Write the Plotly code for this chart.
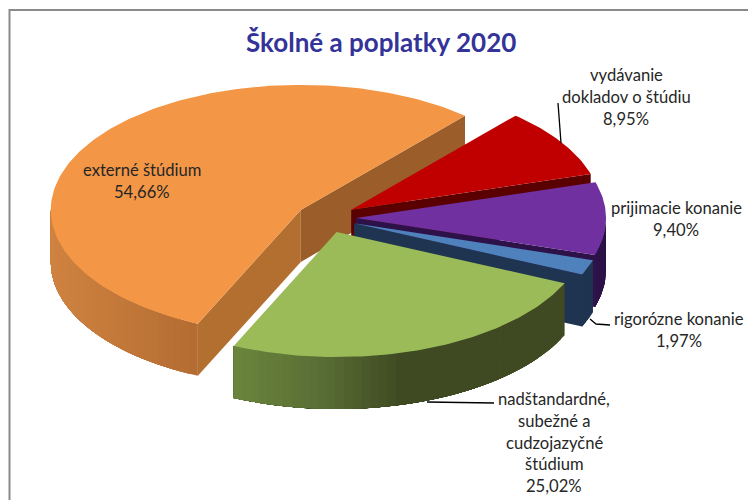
import math
import plotly.graph_objects as go

# ---- data ----
categories = ["externé štúdium", "vydávanie dokladov o štúdiu", "prijimacie konanie",
              "rigorózne konanie", "nadštandardné, subežné a cudzojazyčné štúdium"]
shares = [54.66, 8.95, 9.40, 1.97, 25.02]
share_labels = ["54,66%", "8,95%", "9,40%", "1,97%", "25,02%"]
label_lines = [["externé štúdium"], ["vydávanie", "dokladov o štúdiu"], ["prijimacie konanie"],
               ["rigorózne konanie"], ["nadštandardné,", "subežné a", "cudzojazyčné", "štúdium"]]
title_text = "Školné a poplatky 2020"

# ---- style ----
top_colors = ["#f39646", "#c00000", "#7030a0", "#4f81bd", "#9bbb59"]
start_face = ["#b26f30", None, None, None, None]
end_face = ["#9b5e2b", "#5a0000", "#2c1248", "#1e3450", None]
wall_stops = [
    [(50, "#d08340"), (197, "#b46c32"), (748, "#b46c32")],
    [(0, "#5a0000"), (748, "#5a0000")],
    [(0, "#2c1248"), (748, "#2c1248")],
    [(0, "#1e3450"), (748, "#1e3450")],
    [(234, "#6b853c"), (320, "#596e35"), (400, "#3f4a22"), (748, "#3f4a22")],
]
label_pos = [(142, 170), (626, 75), (676, 208), (679, 319), (554, 399)]
TEXT = "#262626"
CX, CY, RX, RY, DEPTH, EXPLODE, FIRST_ANGLE = 326, 218, 250, 125, 52, 30, 204.3


def rgb(h):
    return [int(h[i:i + 2], 16) for i in (1, 3, 5)]


def shade(stops, x):
    x = max(stops[0][0], min(stops[-1][0], x))
    for (x0, c0), (x1, c1) in zip(stops, stops[1:]):
        if x <= x1:
            t = (x - x0) / (x1 - x0)
            a, b = rgb(c0), rgb(c1)
            return "rgb(%d,%d,%d)" % tuple(round(p + (q - p) * t) for p, q in zip(a, b))
    return stops[-1][1]


def poly(fig, xs, ys, color, name):
    fig.add_trace(go.Scatter(
        x=xs + xs[:1], y=ys + ys[:1], mode="lines", fill="toself", fillcolor=color,
        line=dict(color=color, width=0), hoverinfo="skip", showlegend=False, name=name))


fig = go.Figure()
angle = FIRST_ANGLE
for i, share in enumerate(shares):
    sweep = share / sum(shares) * 360
    a0, a1 = angle, angle + sweep
    angle = a1
    mid = math.radians((a0 + a1) / 2)
    ax = CX + EXPLODE * math.sin(mid)
    ay = CY - EXPLODE * RY / RX * math.cos(mid)

    def pt(deg):
        r = math.radians(deg)
        return ax + RX * math.sin(r), ay - RY * math.cos(r)

    # cut faces seen from the front
    if start_face[i]:
        p = pt(a0)
        poly(fig, [ax, p[0], p[0], ax], [ay, p[1], p[1] + DEPTH, ay + DEPTH], start_face[i], categories[i])
    if end_face[i]:
        p = pt(a1)
        poly(fig, [ax, p[0], p[0], ax], [ay, p[1], p[1] + DEPTH, ay + DEPTH], end_face[i], categories[i])

    # outer wall: front half of the rim only. Shaded strips, each running on
    # to the end of the rim so that the next one paints over its seam.
    for turn in (0, 360):
        lo, hi = max(a0, 90 + turn), min(a1, 270 + turn)
        if hi > lo:
            n = max(1, int((hi - lo) / 2))
            for k in range(n):
                d0 = lo + (hi - lo) * k / n
                steps = 24
                arc = [pt(d0 + (hi - d0) * s / steps) for s in range(steps + 1)]
                xs = [a[0] for a in arc]
                ys = [a[1] for a in arc]
                p = pt(d0)
                q = pt(d0 + (hi - lo) / n)
                poly(fig, xs + xs[::-1], ys + [y + DEPTH for y in ys[::-1]],
                     shade(wall_stops[i], (p[0] + q[0]) / 2), categories[i])

    # top surface
    n = max(4, int(sweep))
    arc = [pt(a0 + sweep * k / n) for k in range(n + 1)]
    poly(fig, [ax] + [a[0] for a in arc], [ay] + [a[1] for a in arc], top_colors[i], categories[i])

annotations = [dict(x=381, y=42, xref="x", yref="y", text="<b>%s</b>" % title_text, showarrow=False,
                    font=dict(family="Lato", size=26, color="#333399"))]
for (x, y), lines, pct in zip(label_pos, label_lines, share_labels):
    for j, line in enumerate(lines + [pct]):
        annotations.append(dict(x=x, y=y + j * 21.8, xref="x", yref="y", text=line, showarrow=False,
                                font=dict(family="Lato", size=16.6, color=TEXT)))

leaders = [
    [(561, 143), (558, 103)],
    [(590, 319), (596, 324), (610, 325)],
    [(427, 402), (494, 403)],
]
shapes = []
for path in leaders:
    d = "M " + " L ".join("%g %g" % p for p in path)
    shapes.append(dict(type="path", path=d, xref="x", yref="y", layer="above",
                       line=dict(color="#000000", width=1.3)))
# chart frame running off the right and bottom of the picture
shapes.append(dict(type="path", path="M 9.5 510 L 9.5 10 L 760 10", xref="x", yref="y", layer="above",
                   line=dict(color="#8a8a8a", width=2)))

fig.update_layout(
    width=748, height=500, margin=dict(l=0, r=0, t=0, b=0), autosize=False,
    paper_bgcolor="white", plot_bgcolor="white", showlegend=False,
    xaxis=dict(range=[0, 748], visible=False, fixedrange=True),
    yaxis=dict(range=[500, 0], visible=False, fixedrange=True),
    annotations=annotations, shapes=shapes,
)
fig.write_html("out.html", config={"displayModeBar": False},
               post_script="document.body.style.margin='0';document.documentElement.style.overflow='hidden';")
